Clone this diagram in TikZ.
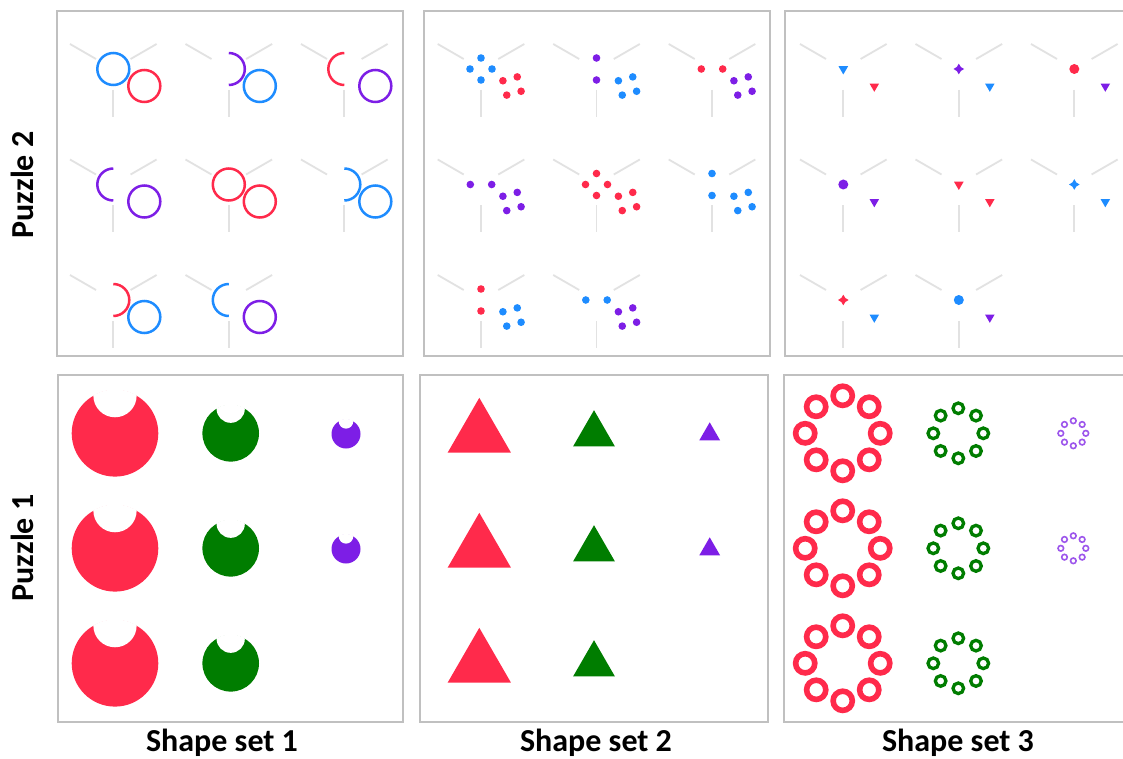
\documentclass[tikz,border=0pt]{standalone}
\usepackage{fontspec}
\newfontfamily\labfont{Carlito}
\definecolor{cr}{RGB}{255,42,75}
\definecolor{cb}{RGB}{30,140,255}
\definecolor{cp}{RGB}{125,30,230}
\definecolor{cg}{RGB}{0,125,0}
\definecolor{cy}{RGB}{226,226,226}
\definecolor{cf}{RGB}{192,192,192}
\tikzset{
  yline/.style={draw=cy, line width=1.8pt},
  frame/.style={draw=cf, line width=2pt},
  cl/.style={line width=2.5pt},
  lab/.style={font=\labfont\bfseries\fontsize{32}{38}\selectfont, inner sep=0pt}
}
% Y-shaped guide lines around (0,0)
\newcommand\yfig{%
  \draw[yline] (-43.3,-25) -- (-17.3,-10);
  \draw[yline] (43.3,-25) -- (17.3,-10);
  \draw[yline] (0,21) -- (0,48);
}
% panel A (rings)
\newcommand\AfullA[1]{\draw[cl,color=#1] (0,0) circle[radius=16];}
\newcommand\ArightA[1]{\draw[cl,color=#1] (0,-16) arc[start angle=-90,end angle=90,radius=16];}
\newcommand\AleftA[1]{\draw[cl,color=#1] (0,-16) arc[start angle=-90,end angle=-270,radius=16];}
\newcommand\BA[1]{\draw[cl,color=#1] (31,17) circle[radius=16];}
% panel B (dots)
\newcommand\dotp[3]{\fill[color=#1] (#2,#3) circle[radius=3.8];}
\newcommand\AfullB[1]{\dotp{#1}{0}{-11}\dotp{#1}{0}{11}\dotp{#1}{-11}{0}\dotp{#1}{11}{0}}
\newcommand\ArightB[1]{\dotp{#1}{0}{-11}\dotp{#1}{0}{11}}
\newcommand\AleftB[1]{\dotp{#1}{-10.7}{0}\dotp{#1}{10.7}{0}}
\newcommand\BB[1]{\begin{scope}[shift={(31,17)}]\dotp{#1}{-9.1}{-5.25}\dotp{#1}{5.25}{-9.1}\dotp{#1}{-5.25}{9.1}\dotp{#1}{9.1}{5.25}\end{scope}}
% panel C (small marks)
\newcommand\dtri[1]{\fill[color=#1] (0,5.5) -- (-4.8,-2.75) -- (4.8,-2.75) -- cycle;}
\newcommand\AfullC[1]{\dtri{#1}}
\newcommand\ArightC[1]{\fill[color=#1] (0,-5.3) -- (2,-2) -- (5.3,0) -- (2,2) -- (0,5.3) -- (-2,2) -- (-5.3,0) -- (-2,-2) -- cycle;}
\newcommand\AleftC[1]{\fill[color=#1] (0,0) circle[radius=5];}
\newcommand\BC[1]{\begin{scope}[shift={(31,17.3)}]\dtri{#1}\end{scope}}
% bottom shapes
\newcommand\bitten[4]{%
  \fill[color=#4] (#1,#2) circle[radius=#3];
  \begin{scope}
    \clip (#1,#2) circle[radius=#3+0.5];
    \fill[white] (#1,{#2-0.87*#3}) circle[radius={0.5*#3}];
  \end{scope}}
\newcommand\tri[4]{\fill[color=#4] (#1,{#2-#3}) -- ({#1+0.866*#3},{#2+0.5*#3}) -- ({#1-0.866*#3},{#2+0.5*#3}) -- cycle;}
\newcommand\ringset[6]{%
  \foreach \a in {0,45,...,315}{\draw[color=#6, line width=#5pt] ({#1+#3*cos(\a)},{#2+#3*sin(\a)}) circle[radius=#4];}}
\begin{document}
\begin{tikzpicture}[x=1pt,y=-1pt]
\useasboundingbox (0,0) rectangle (1123,759);
\clip (0,0) rectangle (1123,759);
\fill[white] (0,0) rectangle (1123,759);
% frames
\draw[frame] (56.5,11) rectangle (402.5,355.5);
\draw[frame] (424,11) rectangle (770,355.5);
\draw[frame] (785,11) rectangle (1140,356);
\draw[frame] (58,375) rectangle (403,722);
\draw[frame] (420,375) rectangle (768,722);
\draw[frame] (784,375) rectangle (1140,722);
% top panels
\foreach \cx/\cy/\ty/\ac/\bc in {1/1/full/cb/cr, 2/1/right/cp/cb, 3/1/left/cr/cp,
    1/2/left/cp/cp, 2/2/full/cr/cr, 3/2/right/cb/cb, 1/3/right/cr/cb, 2/3/left/cb/cp}{
  \foreach \p/\px in {A/113.3, B/481, C/843.3}{
    \begin{scope}[shift={({\px+(\cx-1)*115.5},{69+(\cy-1)*115.5})}]
      \yfig
      \csname A\ty\p\endcsname{\ac}
      \csname B\p\endcsname{\bc}
    \end{scope}
  }
}
% bottom-left: bitten discs
\foreach \r in {0,1,2}{
  \bitten{115}{433.3+115*\r}{43.3}{cr}
  \bitten{230.7}{433.3+115*\r}{28.3}{cg}
}
\foreach \r in {0,1}{\bitten{346}{434+115*\r}{14.5}{cp}}
% bottom-middle: triangles
\foreach \r in {0,1,2}{
  \tri{479.3}{434.3+115*\r}{36.5}{cr}
  \tri{594}{434.3+115*\r}{24.1}{cg}
}
\foreach \r in {0,1}{\tri{709.7}{434.3+115*\r}{12}{cp}}
% bottom-right: ring sets
\foreach \r in {0,1,2}{
  \ringset{842.7}{433.3+115*\r}{37.5}{9.6}{5.6}{cr}
  \ringset{958.3}{433.3+115*\r}{25}{5.3}{3.3}{cg}
}
\foreach \r in {0,1}{\ringset{1073.3}{433.3+115*\r}{12.5}{2.8}{1.6}{cp!75}}
% labels
\node[lab, rotate=90] (p2) at (22,185) {Puzzle 2};
\node[lab, rotate=90] (p1) at (22,548) {Puzzle 1};
\node[lab] (s1) at (222,742.5) {Shape set 1};
\node[lab] (s2) at (596,742.5) {Shape set 2};
\node[lab] (s3) at (958,742.5) {Shape set 3};
\end{tikzpicture}
\end{document}
